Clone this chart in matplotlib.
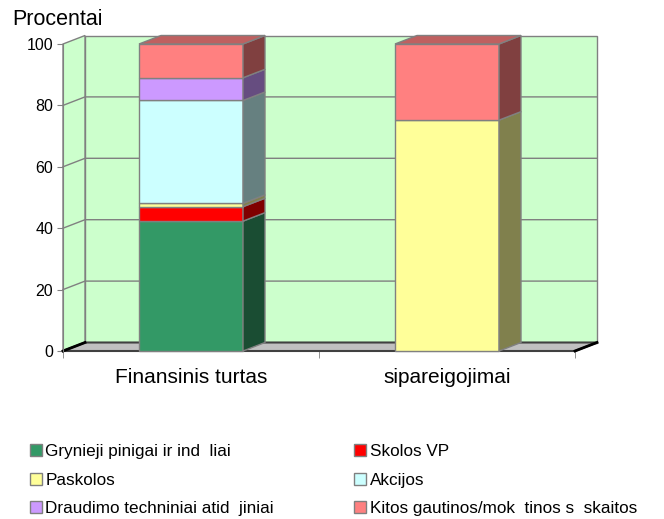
import matplotlib.pyplot as plt
from matplotlib.patches import Polygon, Patch

plt.rcParams['font.family'] = ['Liberation Sans', 'DejaVu Sans']

# data
categories = ["Finansinis turtas", "sipareigojimai"]
series = ["Grynieji pinigai ir ind  liai", "Skolos VP", "Paskolos",
          "Akcijos", "Draudimo techniniai atid  jiniai",
          "Kitos gautinos/mok  tinos s  skaitos"]
grynieji = [42.3, 0.0]
skolos_vp = [4.7, 0.0]
paskolos = [1.1, 75.2]
akcijos = [33.5, 0.0]
draudimo = [7.4, 0.0]
kitos = [11.0, 24.8]
values = [grynieji, skolos_vp, paskolos, akcijos, draudimo, kitos]
yticks = [0, 20, 40, 60, 80, 100]

front_col = ["#339966", "#ff0000", "#ffff99", "#ccffff", "#cc99ff", "#ff8080"]
side_col = ["#1a4d33", "#800000", "#80804d", "#668080", "#664d80", "#804040"]
top_col = ["#267350", "#bf0000", "#bfbf73", "#99bfbf", "#9973bf", "#bf6060"]

fig = plt.figure(figsize=(6.64, 5.19), dpi=100)
W, H = 664, 519
ax = fig.add_axes([63 / W, (H - 351) / H, 512 / W, 307 / H])
ax.set_xlim(0, 2)
ax.set_ylim(0, 100)

# depth offsets in data units
dx = 22 / 256
dy = 8.5 / 3.07
edge = "#808080"

# walls
ax.add_patch(Polygon([(dx, dy), (2 + dx, dy), (2 + dx, 100 + dy), (dx, 100 + dy)],
                     closed=True, fc="#ccffcc", ec=edge, lw=1, clip_on=False, zorder=1))
ax.add_patch(Polygon([(0, 0), (dx, dy), (dx, 100 + dy), (0, 100)],
                     closed=True, fc="#ccffcc", ec=edge, lw=1, clip_on=False, zorder=1))
for v in yticks[1:-1]:
    ax.plot([0, dx, 2 + dx], [v, v + dy, v + dy], color=edge, lw=1,
            clip_on=False, zorder=2)

# floor
ax.add_patch(Polygon([(0, 0), (2, 0), (2 + dx, dy), (dx, dy)], closed=True,
                     fc="#c0c0c0", ec="#404040", lw=1.5, clip_on=False, zorder=2))
ax.plot([0, dx], [0, dy], color="black", lw=2, clip_on=False, zorder=2)
ax.plot([2, 2 + dx], [0, dy], color="black", lw=2, clip_on=False, zorder=2)

# bars
bw = 104 / 256
for i in range(len(categories)):
    x0 = i + 0.5 - bw / 2
    x1 = x0 + bw
    bottom = 0
    top_idx = max(k for k in range(len(values)) if values[k][i] > 0)
    for k, vals in enumerate(values):
        v = vals[i]
        if v <= 0:
            continue
        y0, y1 = bottom, bottom + v
        ax.add_patch(Polygon([(x0, y0), (x1, y0), (x1, y1), (x0, y1)], closed=True,
                             fc=front_col[k], ec=edge, lw=1, clip_on=False, zorder=3))
        ax.add_patch(Polygon([(x1, y0), (x1 + dx, y0 + dy), (x1 + dx, y1 + dy), (x1, y1)],
                             closed=True, fc=side_col[k], ec=edge, lw=1,
                             clip_on=False, zorder=3))
        if k == top_idx:
            ax.add_patch(Polygon([(x0, y1), (x1, y1), (x1 + dx, y1 + dy), (x0 + dx, y1 + dy)],
                                 closed=True, fc=top_col[k], ec=edge, lw=1,
                                 clip_on=False, zorder=3))
        bottom = y1

# axes
for s in ["top", "right", "bottom"]:
    ax.spines[s].set_visible(False)
ax.spines["left"].set_color(edge)
ax.set_yticks(yticks)
ax.tick_params(axis="y", length=4, color=edge, labelsize=11.5, pad=3)
ax.set_xticks([0.5, 1.5])
ax.set_xticklabels(categories, fontsize=15)
ax.set_xticks([0, 1, 2], minor=True)
ax.tick_params(axis="x", which="major", length=0, pad=12)
ax.tick_params(axis="x", which="minor", length=5, color=edge)

fig.text(12 / W, 1 - 25 / H, "Procentai", fontsize=15.5, va="baseline")

handles = [Patch(fc=front_col[k], ec=edge, label=series[k]) for k in range(len(series))]
order = [0, 2, 4, 1, 3, 5]
fig.legend([handles[k] for k in order], [series[k] for k in order],
           loc="upper left", bbox_to_anchor=(30 / W, 1 - 444 / H), ncol=2,
           frameon=False, fontsize=12.3, handlelength=0.7, handleheight=0.7,
           handletextpad=0.2, columnspacing=4.7, labelspacing=0.8,
           borderpad=0, borderaxespad=0)

fig.savefig("out.png", dpi=100)
